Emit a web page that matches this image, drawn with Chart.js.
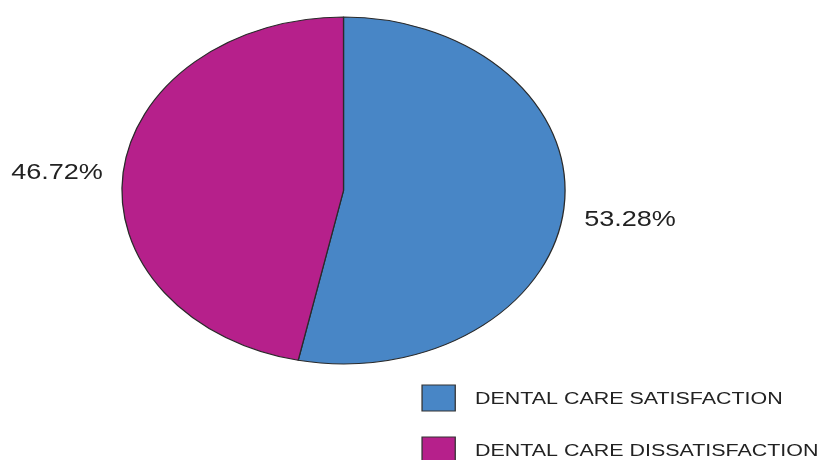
<!DOCTYPE html>
<html>
<head>
<meta charset="utf-8">
<script src="https://cdn.jsdelivr.net/npm/chart.js@4/dist/chart.umd.min.js"></script>
<style>
  html, body { margin: 0; padding: 0; background: #fff; }
  #wrap { width: 837px; height: 460px; }
</style>
</head>
<body>
<div id="wrap"><canvas id="pie" width="837" height="460"></canvas></div>
<script>
// values
const categories = ['DENTAL CARE SATISFACTION', 'DENTAL CARE DISSATISFACTION'];
const shares = [53.28, 46.72];
const sliceColors = ['#4886C6', '#B6208B'];

// the original is a round pie stretched sideways (text too)
const STRETCH = 1.277;
const FONT = "'Liberation Sans', Arial, sans-serif";

const stretchPlugin = {
  id: 'stretch',
  beforeDraw(chart) {
    chart.ctx.save();
    chart.ctx.scale(STRETCH, 1);
  },
  afterDraw(chart) {
    chart.ctx.restore();
  },
};

// percent labels outside each slice + the stacked legend at bottom right
const labelsPlugin = {
  id: 'sliceLabels',
  afterDatasetsDraw(chart) {
    const ctx = chart.ctx;
    const meta = chart.getDatasetMeta(0);
    const ds = chart.data.datasets[0];

    ctx.save();
    ctx.fillStyle = '#222';
    ctx.font = `21.2px ${FONT}`;
    ctx.textAlign = 'center';
    ctx.textBaseline = 'middle';
    meta.data.forEach((arc, i) => {
      const { x, y, startAngle, endAngle, outerRadius } = arc.getProps(['x', 'y', 'startAngle', 'endAngle', 'outerRadius'], true);
      const mid = (startAngle + endAngle) / 2;
      const r = outerRadius * 1.3;
      ctx.fillText(ds.data[i].toFixed(2) + '%', x + Math.cos(mid) * r, y + Math.sin(mid) * r + 6);
    });

    // legend
    const boxX = 330.5, boxW = 26, boxH = 26, textX = 372;
    const rowY = [398, 450];
    ctx.font = `16.8px ${FONT}`;
    ctx.textAlign = 'left';
    chart.data.labels.forEach((label, i) => {
      const cy = rowY[i];
      ctx.fillStyle = ds.backgroundColor[i];
      ctx.fillRect(boxX, cy - boxH / 2, boxW, boxH);
      ctx.strokeStyle = '#333';
      ctx.lineWidth = 1;
      ctx.strokeRect(boxX, cy - boxH / 2, boxW, boxH);
      ctx.fillStyle = '#222';
      ctx.fillText(label, textX, cy + 1);
    });
    ctx.restore();
  },
};

new Chart(document.getElementById('pie'), {
  type: 'pie',
  data: {
    labels: categories,
    datasets: [{
      data: shares,
      backgroundColor: sliceColors,
      borderColor: '#2a2a2a',
      borderWidth: 1,
      clip: false,
    }],
  },
  options: {
    responsive: false,
    animation: false,
    events: [],
    layout: { padding: { top: 16, bottom: 95, left: 95, right: 394 } },
    plugins: {
      legend: { display: false },
      tooltip: { enabled: false },
    },
  },
  plugins: [stretchPlugin, labelsPlugin],
});
</script>
</body>
</html>
